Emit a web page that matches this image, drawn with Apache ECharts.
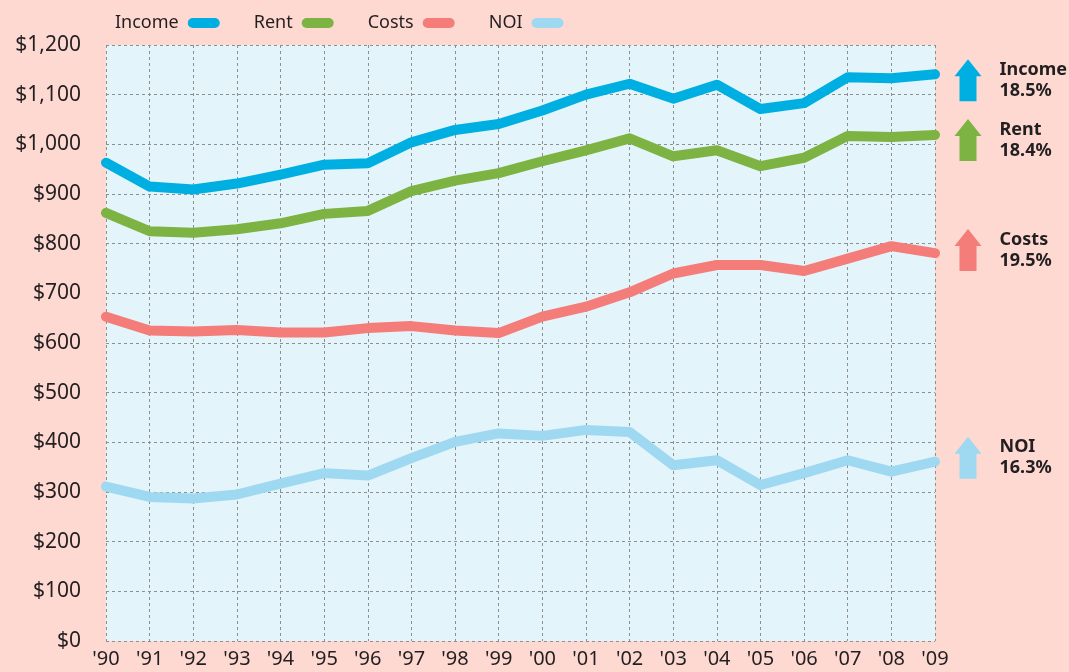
<!DOCTYPE html>
<html>
<head>
<meta charset="utf-8">
<script src="https://cdn.jsdelivr.net/npm/echarts@6/dist/echarts.min.js"></script>
<style>
  html, body { margin: 0; padding: 0; background: #fdd9d2; }
  #chart { width: 1069px; height: 672px; }
</style>
</head>
<body>
<div id="chart"></div>
<script>
const years = ["'90", "'91", "'92", "'93", "'94", "'95", "'96", "'97", "'98", "'99",
  "'00", "'01", "'02", "'03", "'04", "'05", "'06", "'07", "'08", "'09"];

const income = [963, 915, 909, 921, 939, 959, 962, 1004, 1029, 1041,
  1068, 1100, 1122, 1092, 1120, 1071, 1083, 1135, 1133, 1141];
const rent = [862, 825, 822, 829, 841, 860, 866, 906, 927, 942,
  966, 988, 1012, 976, 988, 956, 973, 1017, 1015, 1019];
const costs = [653, 625, 623, 626, 621, 621, 630, 634, 625, 620,
  653, 673, 702, 740, 757, 757, 745, 770, 795, 781];
const noi = [311, 290, 287, 295, 317, 338, 333, 368, 401, 418,
  413, 425, 421, 354, 364, 314, 338, 364, 341, 361];

const changes = ["18.5%", "18.4%", "19.5%", "16.3%"];
const yTicks = [0, 100, 200, 300, 400, 500, 600, 700, 800, 900, 1000, 1100, 1200];

const colors = ["#00afe2", "#7cb342", "#f47c79", "#9fd9f1"];
const names = ["Income", "Rent", "Costs", "NOI"];
const arrowOffsetY = [6, 5, -3, -4];

const arrow = "path://M13.5,0 L27,17 L22,17 L22,42 L5,42 L5,17 L0,17 Z";
const pill = "path://M5,0 L27,0 A5,5 0 0 1 27,10 L5,10 A5,5 0 0 1 5,0 Z";

function makeSeries(name, data, i) {
  return {
    name: name,
    type: "line",
    data: data,
    symbol: "none",
    color: colors[i],
    lineStyle: { width: 10, color: colors[i], cap: "round", join: "round" },
    z: 10 - i,
    markPoint: {
      silent: true,
      symbol: arrow,
      symbolSize: [27, 42],
      symbolOffset: [33, arrowOffsetY[i]],
      itemStyle: { color: colors[i] },
      label: {
        show: true,
        position: "right",
        distance: 18,
        formatter: "{a|" + name + "}\n{a|" + changes[i] + "}",
        rich: {
          a: {
            fontFamily: "Noto Sans",
            fontWeight: "bold",
            fontSize: 18,
            lineHeight: 21,
            color: "#231f20"
          }
        }
      },
      data: [{ coord: [years.length - 1, data[data.length - 1]] }]
    }
  };
}

const chart = echarts.init(document.getElementById("chart"));
chart.setOption({
  backgroundColor: "#fdd9d2",
  animation: false,
  textStyle: { fontFamily: "Noto Sans" },
  legend: {
    left: 110,
    top: 9,
    align: "right",
    icon: pill,
    itemWidth: 32,
    itemHeight: 10,
    itemGap: 34,
    textStyle: { fontSize: 18, color: "#231f20", padding: [0, 4, 0, 0] },
    data: names
  },
  grid: {
    left: 106,
    right: 134,
    top: 45,
    bottom: 31,
    show: true,
    backgroundColor: "#e4f4fb",
    borderWidth: 0
  },
  xAxis: {
    type: "category",
    data: years,
    boundaryGap: false,
    axisLine: { show: false },
    axisTick: { show: false },
    axisLabel: { color: "#231f20", fontSize: 20, margin: 8 },
    splitLine: { show: true, lineStyle: { color: "#8f8f8f", type: [3, 3], width: 1 } }
  },
  yAxis: {
    type: "value",
    min: yTicks[0],
    max: yTicks[yTicks.length - 1],
    interval: 100,
    axisLine: { show: false },
    axisTick: { show: false },
    axisLabel: {
      color: "#231f20",
      fontSize: 21,
      margin: 25,
      formatter: function (v) { return "$" + v.toLocaleString("en-US"); }
    },
    splitLine: { show: true, lineStyle: { color: "#8f8f8f", type: [3, 3], width: 1 } }
  },
  series: [
    makeSeries("Income", income, 0),
    makeSeries("Rent", rent, 1),
    makeSeries("Costs", costs, 2),
    makeSeries("NOI", noi, 3)
  ]
});
</script>
</body>
</html>
